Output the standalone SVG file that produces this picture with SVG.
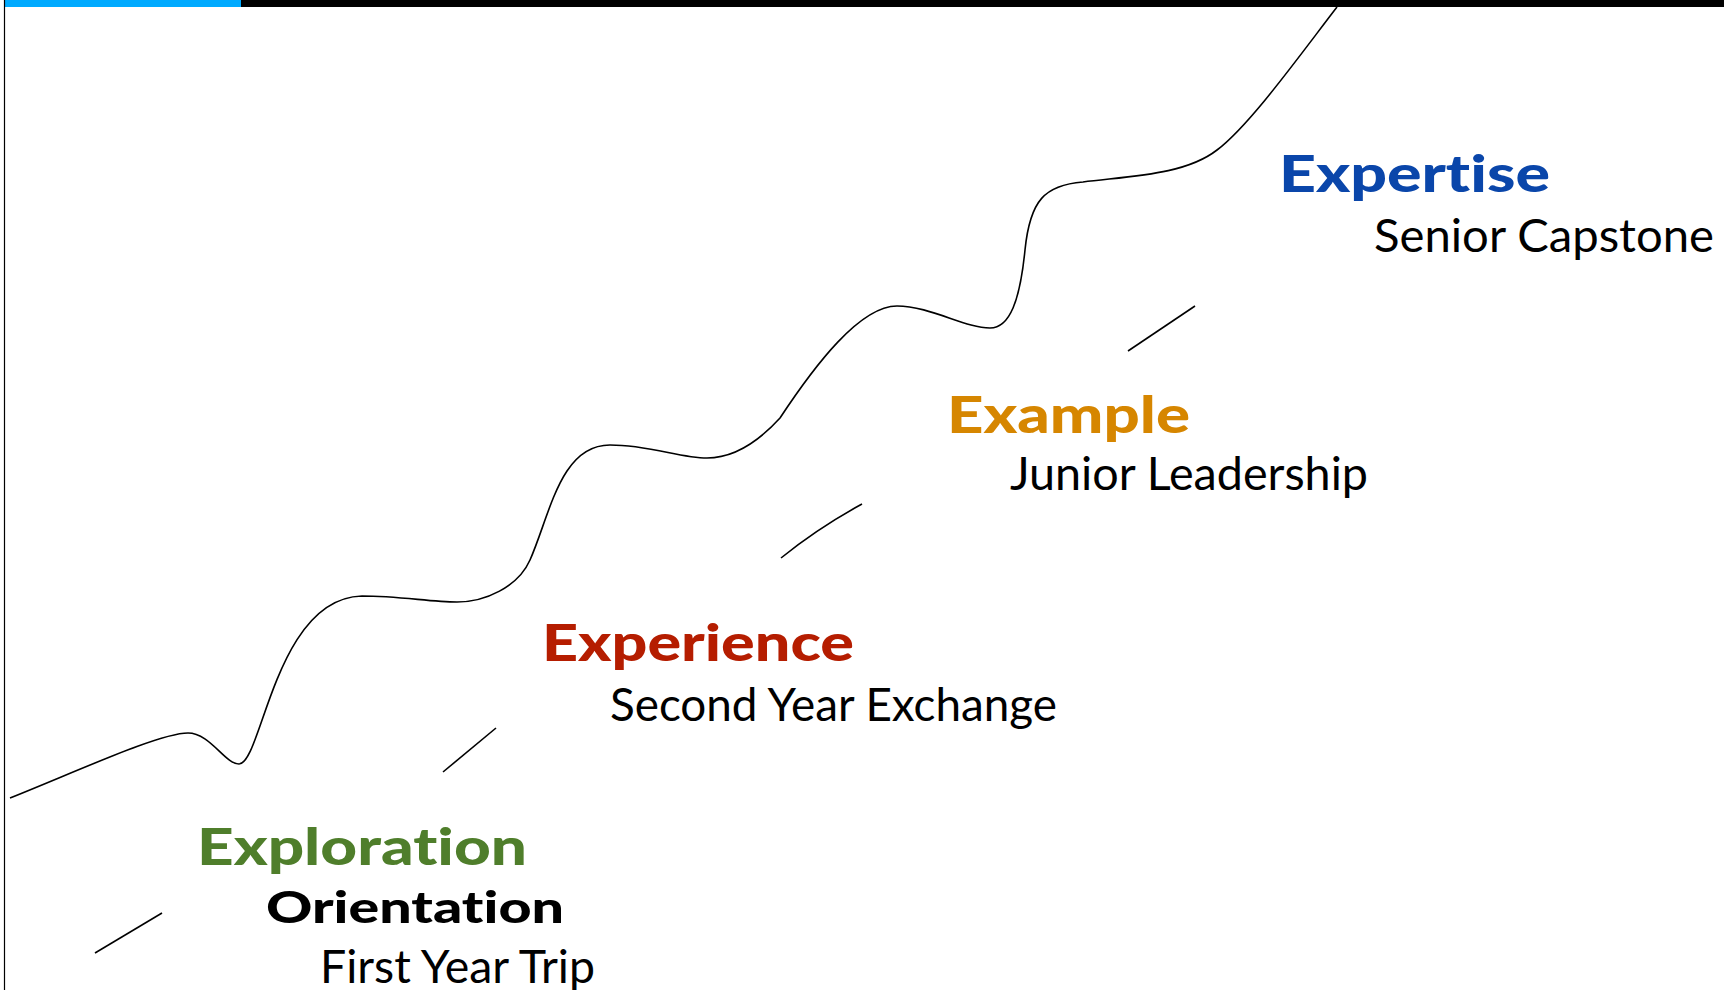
<svg xmlns="http://www.w3.org/2000/svg" width="1724" height="990" viewBox="0 0 1724 990">
<style>
.h{font-family:Lato,"Open Sans","Liberation Sans",sans-serif;font-weight:900;font-size:52px;font-variant-ligatures:none;font-feature-settings:"liga" 0,"clig" 0}
.s{font-family:Lato,"Open Sans","Liberation Sans",sans-serif;font-weight:400;font-size:46px;fill:#000;font-variant-ligatures:none;font-feature-settings:"liga" 0,"clig" 0}
.ln{fill:none;stroke:#000;stroke-width:1.6;stroke-linecap:butt}
</style>
<rect x="0" y="0" width="1724" height="990" fill="#fff"/>
<g id="frame">
<rect x="5" y="0" width="236" height="7" fill="#00AAFF"/>
<rect x="241" y="0" width="1483" height="7" fill="#000"/>
<line x1="4.5" y1="0" x2="4.5" y2="990" stroke="#000" stroke-width="1.2"/>
</g>
<g id="connectors">
<path class="ln" d="M10,798 C80,770 160,733 188,733 C210,733 225,764 239,764 C262,764 275,598 362,596 C400,596 430,602 457,602 C485,602 518,587 530,560 C550,515 560,445 610,445 C650,445 680,458 707,458 C735,458 760,440 780,418 C815,365 860,306 897,306 C930,306 965,328 990,328 C1010,328 1020,300 1025,250 C1030,200 1045,185 1083,182 C1130,176 1185,175 1217,150 C1250,125 1300,55 1337,7"/>
<line class="ln" x1="95" y1="953" x2="162" y2="913"/>
<line class="ln" x1="443" y1="772" x2="496" y2="728"/>
<path class="ln" d="M781,558 Q818,528 862,504"/>
<line class="ln" x1="1128" y1="351" x2="1195" y2="306"/>
</g>
<g id="node-exploration">
<text class="h" x="197" y="865" fill="#4F7E2B" textLength="330" lengthAdjust="spacingAndGlyphs">Exploration</text>
<text class="h" x="266" y="923" fill="#000" style="font-size:43px" textLength="298" lengthAdjust="spacingAndGlyphs">Orientation</text>
<text class="s" x="320" y="983" textLength="275" lengthAdjust="spacingAndGlyphs">First Year Trip</text>
</g>
<g id="node-experience">
<text class="h" x="542" y="661" fill="#B51D00" textLength="312" lengthAdjust="spacingAndGlyphs">Experience</text>
<text class="s" x="610" y="721" textLength="447" lengthAdjust="spacingAndGlyphs">Second Year Exchange</text>
</g>
<g id="node-example">
<text class="h" x="947" y="433" fill="#D68600" textLength="243" lengthAdjust="spacingAndGlyphs">Example</text>
<text class="s" x="1010" y="490" textLength="358" lengthAdjust="spacingAndGlyphs">Junior Leadership</text>
</g>
<g id="node-expertise">
<text class="h" x="1279" y="192" fill="#0A46AA" textLength="271" lengthAdjust="spacingAndGlyphs">Expertise</text>
<text class="s" x="1374" y="252" textLength="340" lengthAdjust="spacingAndGlyphs">Senior Capstone</text>
</g>
</svg>
